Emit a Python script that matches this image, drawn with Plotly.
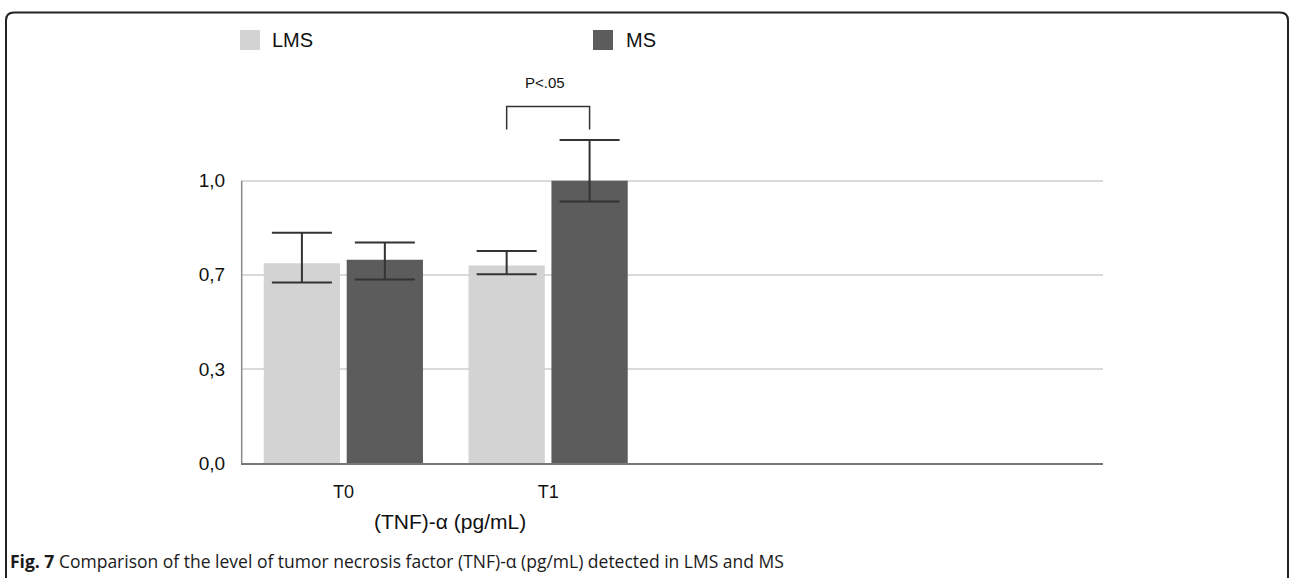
import plotly.graph_objects as go

categories = ["T0", "T1"]
lms_values = [0.708, 0.700]
lms_err_plus = [0.108, 0.051]
lms_err_minus = [0.069, 0.031]
ms_values = [0.720, 1.000]
ms_err_plus = [0.061, 0.144]
ms_err_minus = [0.070, 0.074]
ytick_vals = [0, 1/3, 2/3, 1.0]
ytick_text = ["0,0", "0,3", "0,7", "1,0"]

LMS_COLOR = "#d3d3d3"
MS_COLOR = "#5c5c5c"
ERR_COLOR = "#333333"
FONT = "Liberation Sans"

W, H = 1290, 578
L, R, T, B = 241, 187, 96, 115
PW, PH = W - L - R, H - T - B
Y_TOP = 1.3


def px(x):
    return (x - L) / PW


def py(y):
    return (H - B - y) / PH


fig = go.Figure()
fig.add_trace(go.Bar(
    name="LMS", x=categories, y=lms_values, marker_color=LMS_COLOR,
    marker_line_width=0,
    error_y=dict(type="data", symmetric=False, array=lms_err_plus,
                 arrayminus=lms_err_minus, color=ERR_COLOR, thickness=2, width=30),
    showlegend=False))
fig.add_trace(go.Bar(
    name="MS", x=categories, y=ms_values, marker_color=MS_COLOR,
    marker_line_width=0,
    error_y=dict(type="data", symmetric=False, array=ms_err_plus,
                 arrayminus=ms_err_minus, color=ERR_COLOR, thickness=2, width=30),
    showlegend=False))

shapes = []
# y axis line only spans 0..1
shapes.append(dict(type="line", xref="paper", yref="paper", x0=0.0008, x1=0.0008,
                   y0=0, y1=ytick_vals[-1] / Y_TOP,
                   line=dict(color="#8a8a8a", width=1.5), layer="above"))
# significance bracket between T1 bars
x_l, x_r = 1 - 0.2025, 1 + 0.2025
shapes.append(dict(type="path", xref="x", yref="y",
                   path=f"M {x_l} 1.181 L {x_l} 1.263 L {x_r} 1.263 L {x_r} 1.181",
                   line=dict(color=ERR_COLOR, width=1.5)))

# frame with rounded top corners
fx0, fx1, fy0, fy1, r = 6, 1288, 12.5, 600, 8
path = (f"M {px(fx0)} {py(fy1)} L {px(fx0)} {py(fy0 + r)} "
        f"Q {px(fx0)} {py(fy0)} {px(fx0 + r)} {py(fy0)} "
        f"L {px(fx1 - r)} {py(fy0)} Q {px(fx1)} {py(fy0)} {px(fx1)} {py(fy0 + r)} "
        f"L {px(fx1)} {py(fy1)}")
shapes.append(dict(type="path", xref="paper", yref="paper", path=path,
                   line=dict(color="#222222", width=2)))

# legend squares
for x0, col in [(240, LMS_COLOR), (593, MS_COLOR)]:
    shapes.append(dict(type="rect", xref="paper", yref="paper",
                       x0=px(x0), x1=px(x0 + 20), y0=py(50), y1=py(30),
                       fillcolor=col, line=dict(width=0)))

annotations = [
    dict(text="LMS", x=px(270), y=py(40), xref="paper", yref="paper",
         xanchor="left", yanchor="middle", showarrow=False,
         font=dict(size=20, color="#111", family=FONT)),
    dict(text="MS", x=px(624), y=py(40), xref="paper", yref="paper",
         xanchor="left", yanchor="middle", showarrow=False,
         font=dict(size=20, color="#111", family=FONT)),
    dict(text="P<.05", x=px(545), y=py(82), xref="paper", yref="paper",
         xanchor="center", yanchor="middle", showarrow=False,
         font=dict(size=15, color="#111", family=FONT)),
    dict(text="(TNF)-α (pg/mL)", x=px(450), y=py(521), xref="paper", yref="paper",
         xanchor="center", yanchor="middle", showarrow=False,
         font=dict(size=21, color="#111", family=FONT)),
    dict(text="<b>Fig. 7</b> Comparison of the level of tumor necrosis factor (TNF)-α (pg/mL) detected in LMS and MS",
         x=px(8), y=py(561), xref="paper", yref="paper",
         xanchor="left", yanchor="middle", showarrow=False,
         font=dict(size=17.5, color="#1a1a1a", family="Open Sans")),
]

fig.update_layout(
    width=W, height=H, margin=dict(l=L, r=R, t=T, b=B, pad=0),
    paper_bgcolor="white", plot_bgcolor="white",
    barmode="group", bargap=0.19, bargroupgap=0.08,
    shapes=shapes, annotations=annotations,
    xaxis=dict(range=[-0.5, 3.71], showgrid=False, showline=True,
               linecolor="#777777", linewidth=1.5, zeroline=False,
               ticks="outside", ticklen=12, tickcolor="rgba(0,0,0,0)",
               tickfont=dict(size=18, color="#111", family=FONT)),
    yaxis=dict(range=[0, Y_TOP], tickvals=ytick_vals, ticktext=ytick_text,
               showgrid=True, gridcolor="#dadada", gridwidth=1.5,
               showline=False, zeroline=False,
               ticks="outside", ticklen=11, tickcolor="rgba(0,0,0,0)",
               tickfont=dict(size=19, color="#111", family=FONT)),
)

fig.write_html("out.html")
